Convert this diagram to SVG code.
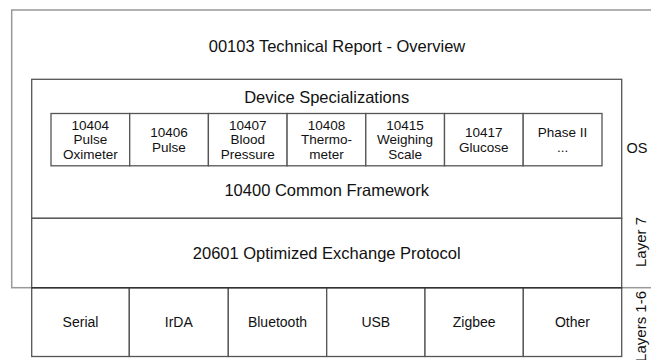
<svg xmlns="http://www.w3.org/2000/svg" width="651" height="360" viewBox="0 0 651 360">
<style>
text{font-family:"Liberation Sans",Arial,sans-serif;fill:#111;text-anchor:middle}
.big{font-size:16.5px}
.sm{font-size:13.5px}
.tr{font-size:14px}
.os{font-size:14.5px}
.lbl{font-size:15px}
.outer{fill:none;stroke:#999;stroke-width:1.5}
.box{fill:#fff;stroke:#555;stroke-width:1.3}
.dark{stroke:#333;stroke-width:1.6}
</style>
<rect width="651" height="360" fill="#fff"/>
<g id="overview">
<rect class="outer" x="11.7" y="10" width="660" height="277.7"/>
<text class="big" x="337" y="51.5">00103 Technical Report - Overview</text>
</g>
<g id="common-framework">
<rect class="box" x="31.7" y="79.3" width="590" height="139"/>
<text class="big" x="326.7" y="103">Device Specializations</text>
<text class="big" x="326.7" y="195.5">10400 Common Framework</text>
</g>
<g id="dev-10404"><rect class="box" x="51" y="113.5" width="78.7" height="52.3"/><text class="sm" x="90.3" y="129.7">10404</text><text class="sm" x="90.3" y="144.2">Pulse</text><text class="sm" x="90.3" y="158.7">Oximeter</text></g>
<g id="dev-10406"><rect class="box" x="129.7" y="113.5" width="78.7" height="52.3"/><text class="sm" x="169" y="137">10406</text><text class="sm" x="169" y="151.5">Pulse</text></g>
<g id="dev-10407"><rect class="box" x="208.4" y="113.5" width="78.7" height="52.3"/><text class="sm" x="247.7" y="129.7">10407</text><text class="sm" x="247.7" y="144.2">Blood</text><text class="sm" x="247.7" y="158.7">Pressure</text></g>
<g id="dev-10408"><rect class="box" x="287.1" y="113.5" width="78.7" height="52.3"/><text class="sm" x="326.4" y="129.7">10408</text><text class="sm" x="326.4" y="144.2">Thermo-</text><text class="sm" x="326.4" y="158.7">meter</text></g>
<g id="dev-10415"><rect class="box" x="365.8" y="113.5" width="78.7" height="52.3"/><text class="sm" x="405.1" y="129.7">10415</text><text class="sm" x="405.1" y="144.2">Weighing</text><text class="sm" x="405.1" y="158.7">Scale</text></g>
<g id="dev-10417"><rect class="box" x="444.5" y="113.5" width="78.7" height="52.3"/><text class="sm" x="483.8" y="137">10417</text><text class="sm" x="483.8" y="151.5">Glucose</text></g>
<g id="dev-phase2"><rect class="box" x="523.2" y="113.5" width="78.8" height="52.3"/><text class="sm" x="562.6" y="137">Phase II</text><text class="sm" x="562.6" y="151.5">...</text></g>
<g id="exchange-protocol">
<rect class="box" x="31.7" y="218.3" width="590" height="69.4"/>
<text class="big" x="326.7" y="258.5">20601 Optimized Exchange Protocol</text>
</g>
<g id="transports">
<rect class="box" x="31.7" y="287.7" width="97.6" height="68.8"/><text class="tr" x="80.5" y="326.5">Serial</text>
<rect class="box" x="129.3" y="287.7" width="99" height="68.8"/><text class="tr" x="178.8" y="326.5">IrDA</text>
<rect class="box" x="228.3" y="287.7" width="98.4" height="68.8"/><text class="tr" x="277.5" y="326.5">Bluetooth</text>
<rect class="box" x="326.7" y="287.7" width="98.3" height="68.8"/><text class="tr" x="375.8" y="326.5">USB</text>
<rect class="box" x="425" y="287.7" width="98.3" height="68.8"/><text class="tr" x="474.2" y="326.5">Zigbee</text>
<rect class="box" x="523.3" y="287.7" width="98.4" height="68.8"/><text class="tr" x="572.5" y="326.5">Other</text>
<line class="dark" x1="31.7" y1="287.7" x2="621.7" y2="287.7"/>
</g>
<g id="layer-labels">
<text class="os" x="637" y="153">OS</text>
<text class="lbl" transform="translate(646,242) rotate(-90)" x="0" y="0">Layer 7</text>
<text class="lbl" transform="translate(646,291) rotate(-90)" x="0" y="0" style="text-anchor:end">Layers 1-6</text>
</g>
</svg>
